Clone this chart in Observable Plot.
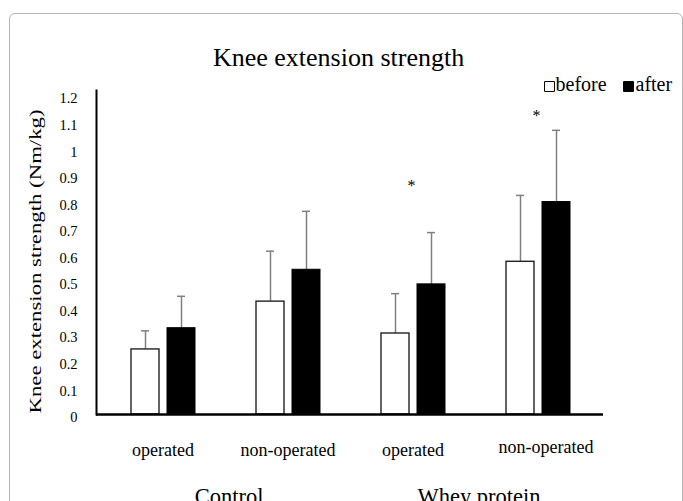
<!DOCTYPE html>
<html>
<head>
<meta charset="utf-8">
<script src="https://cdn.jsdelivr.net/npm/d3@7"></script>
<script src="https://cdn.jsdelivr.net/npm/@observablehq/plot@0.6"></script>
<style>
  html, body { margin: 0; padding: 0; background: white; }
  #wrap { position: relative; width: 683px; height: 501px; overflow: hidden; background: white; }
  #border { position: absolute; left: 9px; top: 13px; width: 672px; height: 540px;
            border: 1px solid #b4b4b4; border-radius: 6px; pointer-events: none; }
</style>
</head>
<body>
<div id="wrap"><div id="chart"></div><div id="border"></div></div>
<script>
// ---- data ----
const title = "Knee extension strength";
const yLabel = "Knee extension strength (Nm/kg)";
const categories = ["Control operated", "Control non-operated", "Whey protein operated", "Whey protein non-operated"];
const subLabels = ["operated", "non-operated", "operated", "non-operated"];
const groupNames = ["Control", "Whey protein"];
const groupFirstCategory = ["Control operated", "Whey protein operated"];
const seriesNames = ["before", "after"];
const beforeMean = [0.245, 0.425, 0.305, 0.575];
const beforeSD   = [0.07, 0.19, 0.15, 0.25];
const afterMean  = [0.325, 0.545, 0.49, 0.80];
const afterSD    = [0.12, 0.22, 0.195, 0.27];
const significance = ["", "", "*", "*"];
const significanceY = [null, null, 0.86, 1.125];
const yTicks = [0, 0.1, 0.2, 0.3, 0.4, 0.5, 0.6, 0.7, 0.8, 0.9, 1, 1.1, 1.2];

const errColor = "#808080";
const font = "'Liberation Serif', 'Times New Roman', serif";

const chart = Plot.plot({
  width: 683,
  height: 501,
  marginLeft: 96,
  marginRight: 80,
  marginTop: 90,
  marginBottom: 87,
  style: { fontFamily: font, background: "transparent", color: "black", fontSize: "15px" },
  x: { type: "band", domain: categories, paddingInner: 0, paddingOuter: 0.028, axis: null },
  y: { domain: [0, 1.22] },
  marks: [
    Plot.axisY({ ticks: yTicks, tickSize: 0, tickPadding: 19, dy: 3, fontSize: 14.5,
      tickFormat: d => String(+d.toFixed(1)), label: null }),
    // error bars (upward only)
    Plot.ruleX(categories, { x: d => d, y1: (d, i) => beforeMean[i], y2: (d, i) => beforeMean[i] + beforeSD[i],
      dx: -17.5, stroke: errColor, strokeWidth: 1.5 }),
    Plot.tickY(categories, { x: d => d, y: (d, i) => beforeMean[i] + beforeSD[i],
      insetLeft: 41, insetRight: 76, stroke: errColor, strokeWidth: 1.5 }),
    Plot.ruleX(categories, { x: d => d, y1: (d, i) => afterMean[i], y2: (d, i) => afterMean[i] + afterSD[i],
      dx: 18.5, stroke: errColor, strokeWidth: 1.5 }),
    Plot.tickY(categories, { x: d => d, y: (d, i) => afterMean[i] + afterSD[i],
      insetLeft: 77, insetRight: 40, stroke: errColor, strokeWidth: 1.5 }),
    // bars
    Plot.barY(categories, { x: d => d, y: (d, i) => beforeMean[i], fill: "white", stroke: "#222",
      strokeWidth: 1.4, insetLeft: 31, insetRight: 66 }),
    Plot.barY(categories, { x: d => d, y: (d, i) => afterMean[i], fill: "black", stroke: "black",
      strokeWidth: 1, insetLeft: 67, insetRight: 30 }),
    // axes lines
    Plot.ruleY([0], { stroke: "black", strokeWidth: 2.4 }),
    Plot.frame({ anchor: "left", stroke: "black", strokeWidth: 2 }),
    // significance
    Plot.text(categories, { x: d => d, y: (d, i) => significanceY[i], text: (d, i) => significance[i],
      fontSize: 16, dx: -1.5 }),
    // category labels
    Plot.text(categories, { filter: (d, i) => i < 3, x: d => d, text: (d, i) => subLabels[i],
      frameAnchor: "bottom", lineAnchor: "middle", dy: 36, fontSize: 18 }),
    Plot.text(categories, { filter: (d, i) => i === 3, x: d => d, text: (d, i) => subLabels[i],
      frameAnchor: "bottom", lineAnchor: "middle", dy: 33, dx: 8, fontSize: 18 }),
    // group labels
    Plot.text(groupNames, { x: (d, i) => groupFirstCategory[i], text: d => d,
      frameAnchor: "bottom", lineAnchor: "middle", dx: 66, dy: 82, fontSize: 22.5 }),
    // y label
    Plot.text([yLabel], { text: d => d, frameAnchor: "bottom-left", lineAnchor: "middle", textAnchor: "start",
      rotate: -90, dx: -61, dy: -1, fontSize: 17 }),
    // title
    Plot.text([title], { text: d => d, frameAnchor: "top", lineAnchor: "middle", dx: -11.5, dy: -33, fontSize: 26 }),
    // legend
    Plot.dot([seriesNames[0]], { frameAnchor: "top-right", dx: -54, dy: -4, symbol: "square", r: 5.6,
      fill: "white", stroke: "black", strokeWidth: 1 }),
    Plot.text([seriesNames[0]], { text: d => d, frameAnchor: "top-right", lineAnchor: "middle", dx: -48, dy: -5.5,
      textAnchor: "start", fontSize: 20 }),
    Plot.dot([seriesNames[1]], { frameAnchor: "top-right", dx: 25, dy: -4, symbol: "square", r: 5.6,
      fill: "black", stroke: "black", strokeWidth: 1 }),
    Plot.text([seriesNames[1]], { text: d => d, frameAnchor: "top-right", lineAnchor: "middle", dx: 32, dy: -5.5,
      textAnchor: "start", fontSize: 20 })
  ]
});

document.getElementById("chart").appendChild(chart);
d3.select(chart).selectAll("text").each(function () {
  if (this.textContent === yLabel) {
    this.setAttribute("textLength", 304);
    this.setAttribute("lengthAdjust", "spacingAndGlyphs");
  }
});
</script>
</body>
</html>
